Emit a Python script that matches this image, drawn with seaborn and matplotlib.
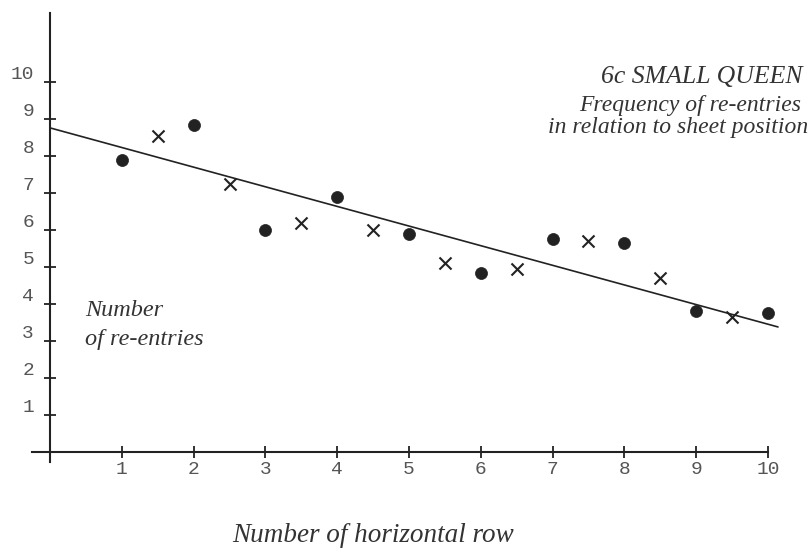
import seaborn as sns
import matplotlib.pyplot as plt
from matplotlib.transforms import ScaledTranslation

# Data
dot_rows = [1, 2, 3, 4, 5, 6, 7, 8, 9, 10]
dot_counts = [7.9, 8.85, 6.0, 6.9, 5.9, 4.85, 5.75, 5.65, 3.8, 3.75]
cross_rows = [1.5, 2.5, 3.5, 4.5, 5.5, 6.5, 7.5, 8.5, 9.5]
cross_counts = [8.55, 7.25, 6.2, 6.0, 5.1, 4.95, 5.7, 4.7, 3.65]
trend_rows = [0, 10.14]
trend_counts = [8.76, 3.38]
x_ticks = [1, 2, 3, 4, 5, 6, 7, 8, 9, 10]
y_ticks = [1, 2, 3, 4, 5, 6, 7, 8, 9, 10]

sns.set_theme(style='white')
plt.rcParams['font.family'] = ['Liberation Serif', 'DejaVu Serif']

ink = '#222222'
fig = plt.figure(figsize=(8.12, 5.48), dpi=100)
ax = fig.add_axes([0.0351, 0.1549, 0.946, 0.8305])

# Trend line and the two kinds of marks
sns.lineplot(x=trend_rows, y=trend_counts, ax=ax, color=ink, linewidth=1.2)
sns.scatterplot(x=dot_rows, y=dot_counts, ax=ax, color=ink, marker='o',
                s=75, edgecolor=ink, linewidth=0.5)
sns.scatterplot(x=cross_rows, y=cross_counts, ax=ax, color=ink, marker='x',
                s=75, linewidth=1.5)

ax.set_xlim(-0.3, 10.4)
ax.set_ylim(-0.3, 12)

# Axes drawn through the origin
for side in ['top', 'right']:
    ax.spines[side].set_visible(False)
ax.spines['left'].set_position(('data', 0))
ax.spines['bottom'].set_position(('data', 0))
ax.spines['left'].set_bounds(-0.27, 11.86)
ax.spines['bottom'].set_bounds(-0.25, 10.0)
for side in ['left', 'bottom']:
    ax.spines[side].set_color(ink)
    ax.spines[side].set_linewidth(1.5)

ax.set_xticks(x_ticks)
ax.set_yticks(y_ticks)
ax.set_xticklabels([str(t) for t in x_ticks])
ax.set_yticklabels([str(t) for t in y_ticks])
ax.tick_params(bottom=True, left=True, direction='inout', length=9,
               width=1.3, color=ink, labelsize=14, labelcolor='#555555')
ax.tick_params(axis='x', pad=2)
ax.tick_params(axis='y', pad=7)
for lab in ax.get_xticklabels() + ax.get_yticklabels():
    lab.set_family('Liberation Mono')
offset = ScaledTranslation(0, 7 / 72, fig.dpi_scale_trans)
for lab in ax.get_yticklabels():
    lab.set_transform(lab.get_transform() + offset)

# Texts
txt = dict(style='italic', color='#333333', va='center')
fig.text(803 / 812, 1 - 77 / 548, '6c SMALL QUEEN', ha='right',
         fontsize=18.5, **txt)
fig.text(801 / 812, 1 - 105 / 548, 'Frequency of re-entries', ha='right',
         fontsize=17, **txt)
fig.text(808 / 812, 1 - 128 / 548, 'in relation to sheet position',
         ha='right', fontsize=17, **txt)
fig.text(85 / 812, 1 - 311 / 548, 'Number', ha='left', fontsize=17.5, **txt)
fig.text(85 / 812, 1 - 339 / 548, 'of re-entries', ha='left',
         fontsize=17.5, **txt)
fig.text(373 / 812, 1 - 536 / 548, 'Number of horizontal row', ha='center',
         fontsize=19.5, **txt)

fig.savefig('out.png', dpi=100, facecolor='white')
